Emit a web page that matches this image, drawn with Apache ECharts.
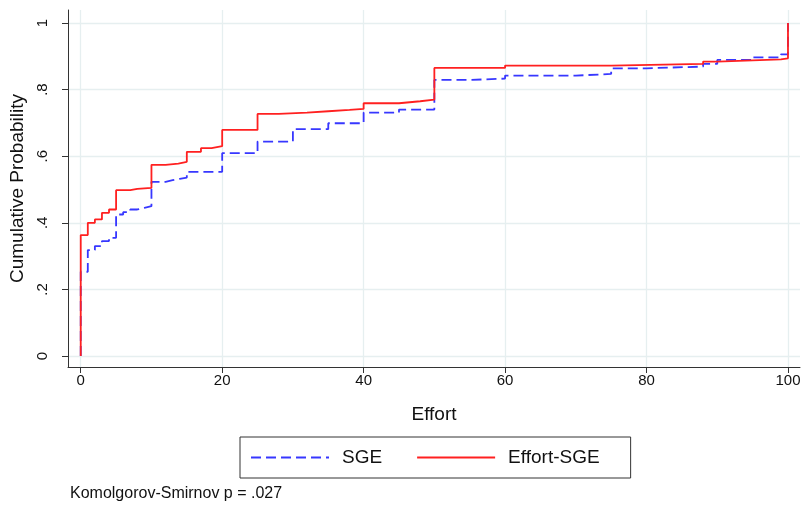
<!DOCTYPE html>
<html>
<head>
<meta charset="utf-8">
<script src="https://cdn.jsdelivr.net/npm/echarts@6/dist/echarts.min.js"></script>
<style>html,body{margin:0;padding:0;background:#fff;}#c{width:807px;height:508px;}</style>
</head>
<body>
<div id="c"></div>
<script>
// Step points (effort, cumulative probability)
var sgeEffort = [0, 0, 1, 2, 3, 4, 5, 6, 7, 8, 9, 10, 12, 13, 14, 15, 20, 25, 30, 35, 40, 45, 50, 55, 60, 70, 75, 80, 88, 90, 95, 99, 100];
var sgeProb   = [0, 0.253, 0.318, 0.330, 0.345, 0.355, 0.425, 0.432, 0.440, 0.445, 0.450, 0.523, 0.528, 0.532, 0.536, 0.553, 0.609, 0.644, 0.681, 0.699, 0.731, 0.740, 0.829, 0.833, 0.842, 0.847, 0.864, 0.869, 0.877, 0.889, 0.897, 0.906, 1.0];

var esgeEffort = [0, 0, 1, 2, 3, 4, 5, 7, 8, 10, 12, 13.8, 15, 17, 18.5, 20, 25, 28, 32, 35, 38, 40, 45, 48, 50, 60, 75, 88, 90, 95, 99, 100];
var esgeProb   = [0, 0.363, 0.400, 0.410, 0.430, 0.440, 0.498, 0.502, 0.505, 0.574, 0.578, 0.583, 0.613, 0.624, 0.630, 0.679, 0.727, 0.731, 0.735, 0.739, 0.742, 0.759, 0.765, 0.770, 0.865, 0.872, 0.877, 0.884, 0.888, 0.891, 0.894, 1.0];

var xTicks = [0, 20, 40, 60, 80, 100];
var yTicks = [0, 0.2, 0.4, 0.6, 0.8, 1];
var yTickLabels = ['0', '.2', '.4', '.6', '.8', '1'];

function zip(a, b) { return a.map(function (v, i) { return [v, b[i]]; }); }

var FONT = 'Liberation Sans, Arial, Helvetica, sans-serif';
var chart = echarts.init(document.getElementById('c'), null, {renderer: 'canvas'});
chart.setOption({
  backgroundColor: '#ffffff',
  animation: false,
  grid: {left: 68, right: 7, top: 10, bottom: 141, containLabel: false, outerBoundsMode: 'none'},
  xAxis: {
    type: 'value', min: -1.8, max: 101.7,
    name: 'Effort', nameLocation: 'middle', nameGap: 38,
    nameTextStyle: {fontFamily: FONT, fontSize: 19, color: '#111'},
    axisLine: {show: true, onZero: false, lineStyle: {color: '#333', width: 1}},
    axisTick: {show: true, inside: false, length: 6, customValues: xTicks, lineStyle: {color: '#333'}},
    axisLabel: {customValues: xTicks, fontFamily: FONT, fontSize: 15, color: '#111', margin: 6},
    splitLine: {show: true, lineStyle: {color: '#e6eff0', width: 1.3}}
  },
  yAxis: {
    type: 'value', min: -0.033, max: 1.039,
    name: 'Cumulative Probability', nameLocation: 'middle', nameGap: 40, nameRotate: 90,
    nameTextStyle: {fontFamily: FONT, fontSize: 19, color: '#111'},
    axisLine: {show: true, onZero: false, lineStyle: {color: '#333', width: 1}},
    axisTick: {show: true, inside: false, length: 6, customValues: yTicks, lineStyle: {color: '#333'}},
    axisLabel: {customValues: yTicks, rotate: 90, fontFamily: FONT, fontSize: 15, color: '#111', margin: 18,
      formatter: function (v) { var i = yTicks.indexOf(v); return i >= 0 ? yTickLabels[i] : ''; }},
    splitLine: {show: true, lineStyle: {color: '#e6eff0', width: 1.3}}
  },
  legend: {
    left: 240, top: 437,
    data: ['SGE', 'Effort-SGE'],
    borderColor: '#333', borderWidth: 1, padding: [11, 31, 11, 10],
    itemWidth: 78, itemHeight: 12, itemGap: 34,
    itemStyle: {opacity: 0},
    textStyle: {fontFamily: FONT, fontSize: 19, color: '#111', padding: [0, 0, 0, 8]}
  },
  graphic: [{
    type: 'text', left: 70, top: 486,
    style: {text: 'Komolgorov-Smirnov p = .027', font: '16px ' + FONT, fill: '#111'}
  }],
  series: [
    {name: 'SGE', type: 'line', step: 'end', symbol: 'none', data: zip(sgeEffort, sgeProb),
     lineStyle: {color: '#3737ff', width: 1.8, type: [10, 5]}, itemStyle: {color: '#3737ff'}, z: 2},
    {name: 'Effort-SGE', type: 'line', step: 'end', symbol: 'none', data: zip(esgeEffort, esgeProb),
     lineStyle: {color: '#ff2020', width: 1.8}, itemStyle: {color: '#ff2020'}, z: 3}
  ]
});
</script>
</body>
</html>
